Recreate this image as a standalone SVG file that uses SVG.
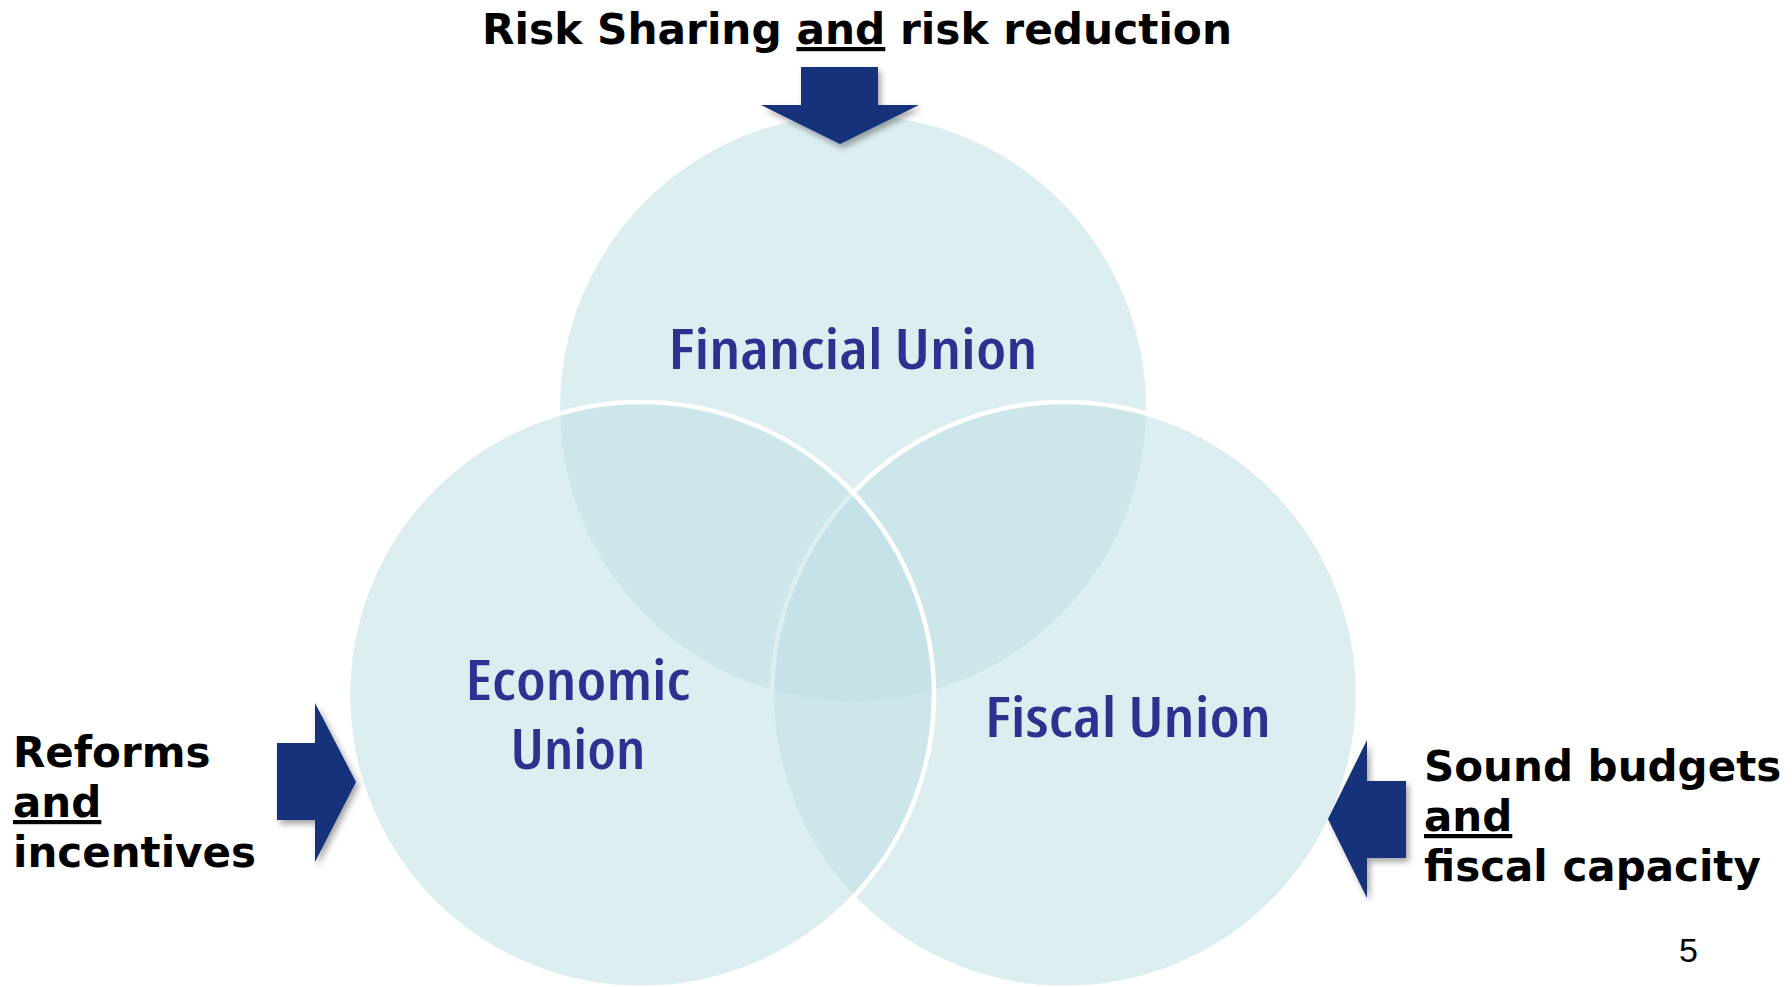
<svg xmlns="http://www.w3.org/2000/svg" width="1792" height="987" viewBox="0 0 1792 987">
  <defs>
    <filter id="shadow" x="-20%" y="-20%" width="150%" height="150%">
      <feDropShadow dx="3" dy="4" stdDeviation="3" flood-color="#000" flood-opacity="0.35"/>
    </filter>
    <style>
      .circle { fill: #BBDDE3; fill-opacity: 0.5; }
      .ring { stroke: #FFFFFF; stroke-width: 4.5; }
      .label { font-family: "Open Sans", "DejaVu Sans Condensed", "DejaVu Sans", sans-serif; font-weight: 600; font-stretch: 75%; font-size: 56px; fill: #2D3290; text-anchor: middle; }
      .note { font-family: "DejaVu Sans", Verdana, sans-serif; font-weight: bold; font-size: 42px; fill: #000; }
      .arrow { fill: #15317A; filter: url(#shadow); }
      .u { text-decoration: underline; }
      .page { font-family: "Liberation Sans", Arial, sans-serif; font-size: 34px; fill: #000; }
    </style>
  </defs>

  <rect width="1792" height="987" fill="#FFFFFF"/>

  <!-- Venn circles: top first (no outline), then right, then left on top -->
  <g id="financial-union">
    <circle class="circle" cx="853" cy="408" r="293"/>
    <text class="label" x="853" y="369" textLength="369" lengthAdjust="spacingAndGlyphs">Financial Union</text>
  </g>
  <g id="fiscal-union">
    <circle class="circle ring" cx="1065" cy="695" r="293"/>
  </g>
  <g id="economic-union">
    <circle class="circle ring" cx="641" cy="695" r="293"/>
  </g>
  <g id="circle-labels">
    <text class="label" x="578" y="700" textLength="225" lengthAdjust="spacingAndGlyphs">Economic</text>
    <text class="label" x="578" y="769" textLength="135" lengthAdjust="spacingAndGlyphs">Union</text>
    <text class="label" x="1128" y="737" textLength="286" lengthAdjust="spacingAndGlyphs">Fiscal Union</text>
  </g>

  <!-- Input arrows -->
  <g id="connectors">
    <polygon class="arrow" points="801,67 878,67 878,105 919,105 840,144 761,105 801,105"/>
    <polygon class="arrow" points="277,743 315,743 315,703 356,782 315,862 315,820 277,820"/>
    <polygon class="arrow" points="1406,781 1367,781 1367,740 1328,819 1367,898 1367,858 1406,858"/>
  </g>

  <g id="risk-sharing">
    <text class="note" x="482" y="44" textLength="750" lengthAdjust="spacingAndGlyphs">Risk Sharing <tspan class="u">and</tspan> risk reduction</text>
  </g>

  <g id="reforms">
    <text class="note" x="13" y="767">Reforms</text>
    <text class="note u" x="13" y="817">and</text>
    <text class="note" x="13" y="867">incentives</text>
  </g>

  <g id="sound-budgets">
    <text class="note" x="1424" y="781">Sound budgets</text>
    <text class="note u" x="1424" y="831">and</text>
    <text class="note" x="1424" y="881">fiscal capacity</text>
  </g>

  <text class="page" x="1679" y="962">5</text>
</svg>
